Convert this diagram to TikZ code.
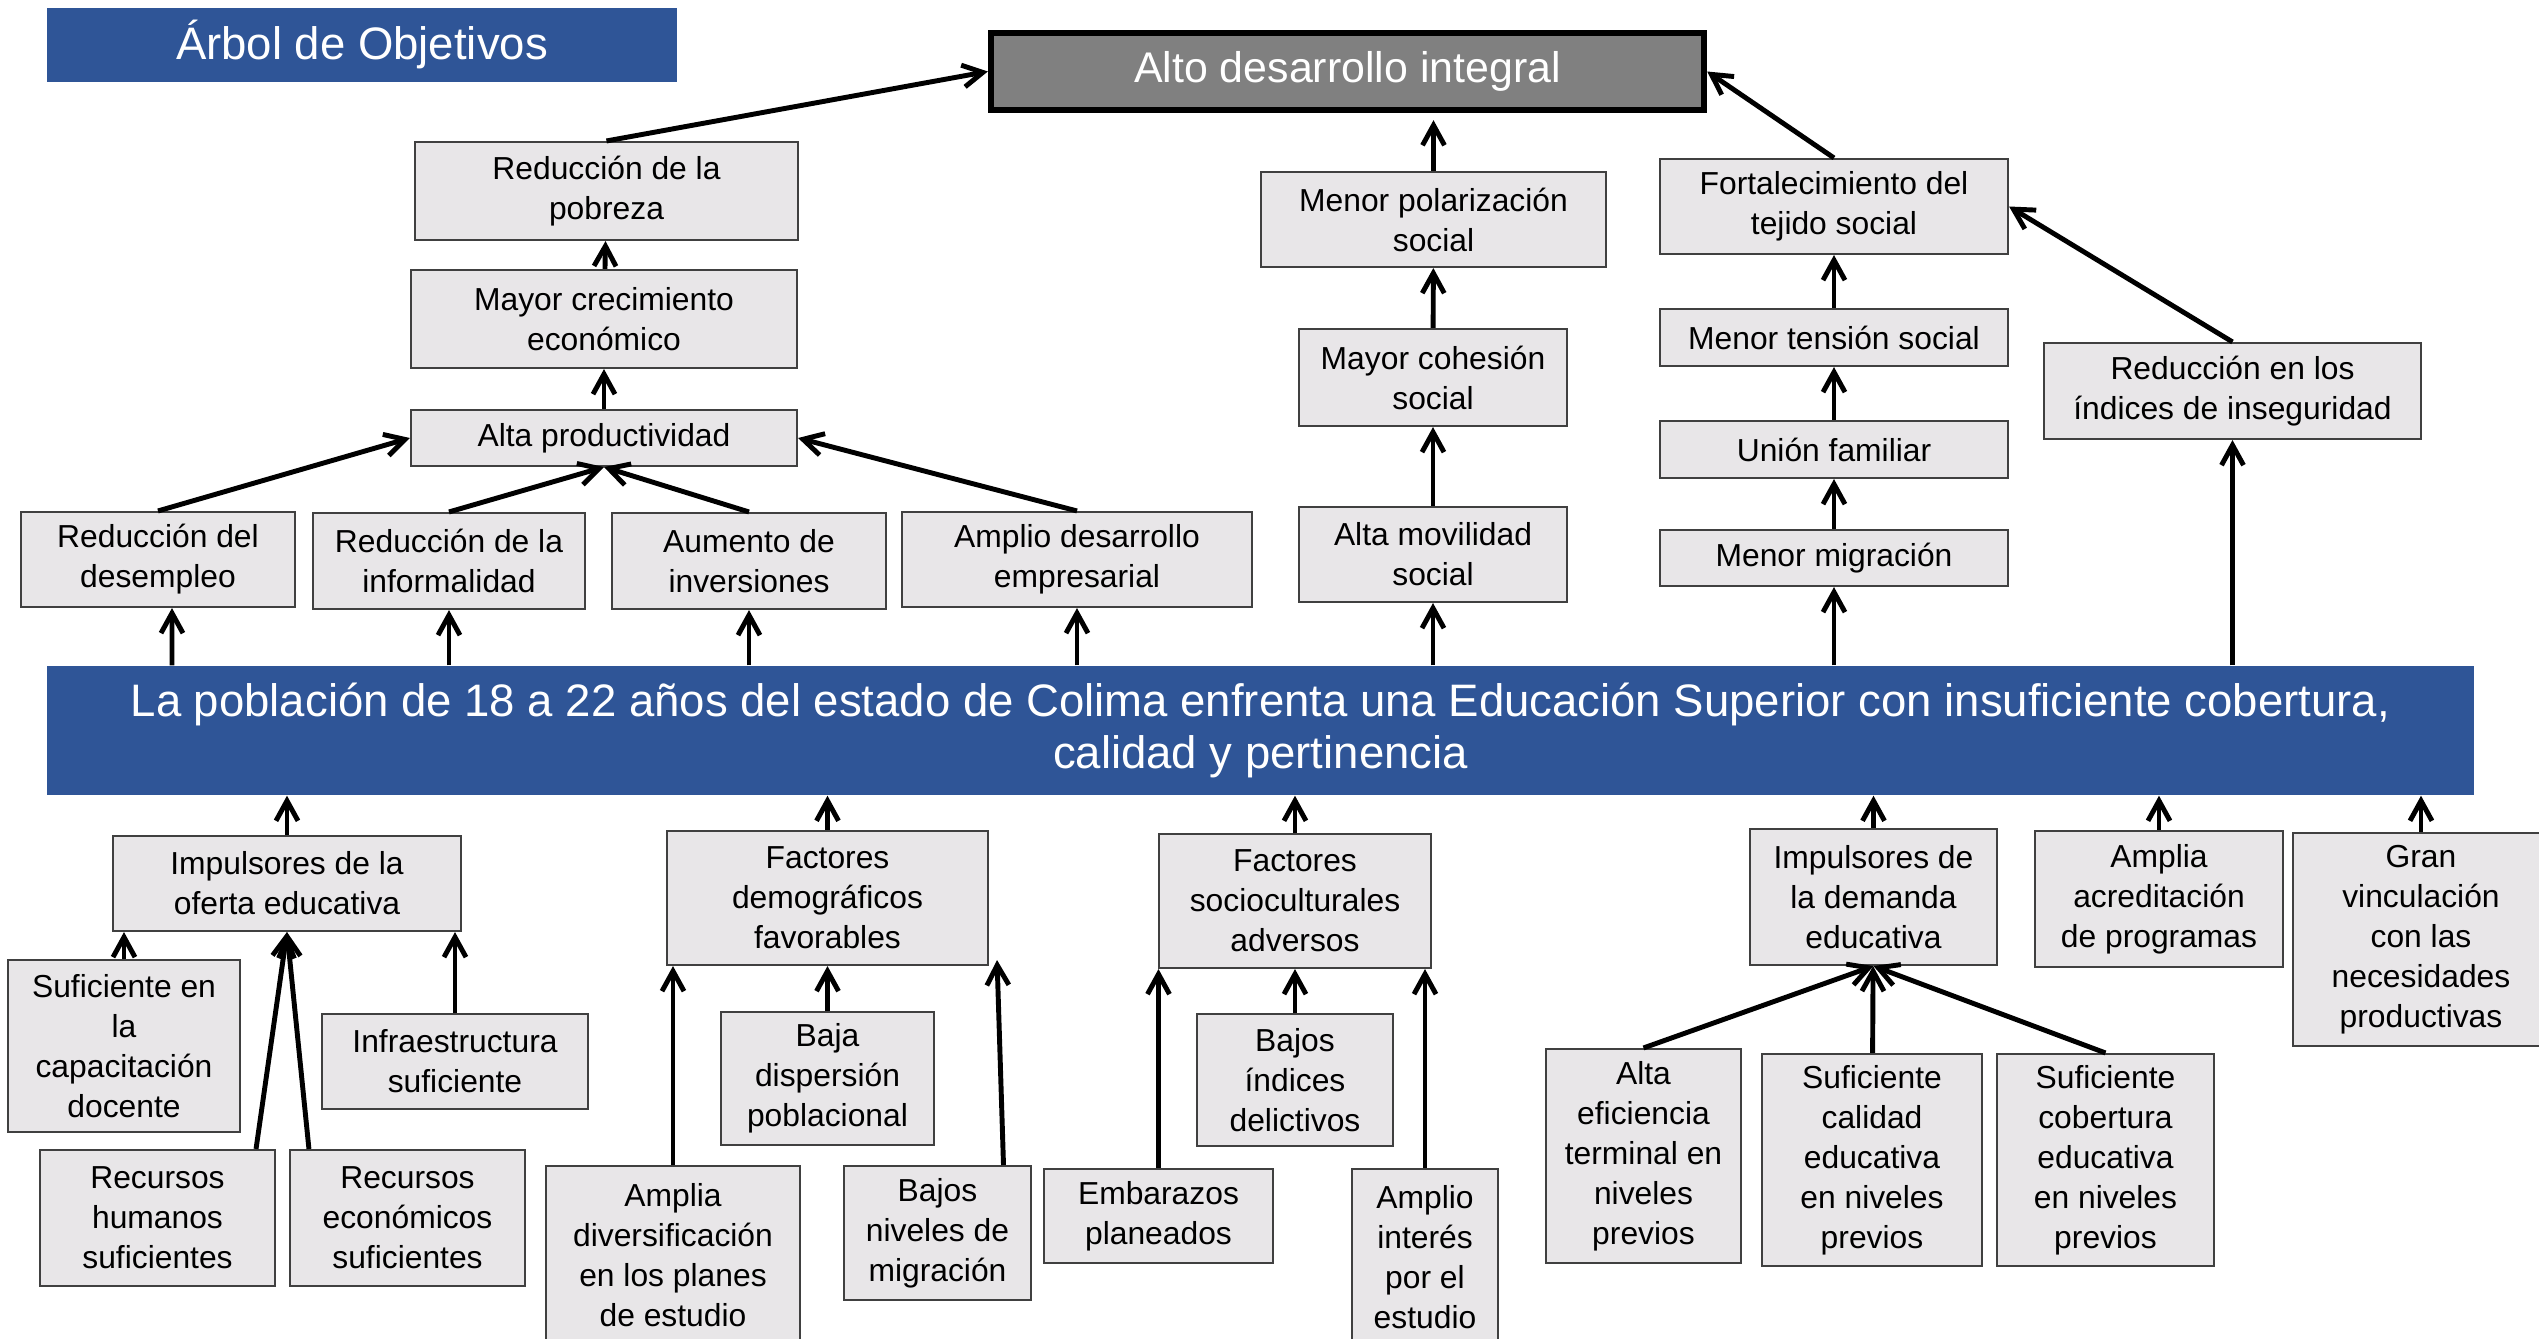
\documentclass[tikz,border=0pt]{standalone}
\usepackage{fontspec}
\setmainfont{Liberation Sans}
\usetikzlibrary{arrows.meta}

\definecolor{azul}{RGB}{47,85,151}
\definecolor{grisclaro}{RGB}{232,230,232}
\definecolor{grisborde}{RGB}{64,64,64}
\definecolor{grismedio}{RGB}{128,128,128}

\begin{document}
\begin{tikzpicture}[
    caja/.style={draw=grisborde, line width=0.6pt, fill=grisclaro, align=center, inner sep=0pt,
        font=\fontsize{9.05}{11.4}\selectfont},
    flecha/.style={-{Straight Barb[length=2mm,width=2.2mm]}, line width=1.4pt},
]
        \useasboundingbox (0,0) rectangle (25.39,-13.39);

        % Title and final goal
        \node[fill=azul, text=white, minimum width=6.30cm, minimum height=0.74cm, inner sep=0pt,
            font=\fontsize{12.95}{15}\selectfont] (titulo) at (3.62,-0.445) {Árbol de Objetivos};
        \node[draw=black, line width=1.8pt, fill=grismedio, text=white, minimum width=7.13cm,
            minimum height=0.77cm, inner sep=0pt, font=\fontsize{12.2}{15}\selectfont]
            (alto) at (13.475,-0.715) {Alto desarrollo integral};

        % Economic branch
        \node[caja, minimum width=3.83cm, minimum height=0.98cm] (pobreza) at (6.065,-1.91) {Reducción de la\\pobreza};
        \node[caja, minimum width=3.86cm, minimum height=0.98cm] (crecimiento) at (6.04,-3.19) {Mayor crecimiento\\económico};
        \node[caja, minimum width=3.86cm, minimum height=0.56cm] (productividad) at (6.04,-4.38) {Alta productividad};
        \node[caja, minimum width=2.74cm, minimum height=0.95cm] (desempleo) at (1.58,-5.595) {Reducción del\\desempleo};
        \node[caja, minimum width=2.72cm, minimum height=0.96cm] (informalidad) at (4.49,-5.61) {Reducción de la\\informalidad};
        \node[caja, minimum width=2.74cm, minimum height=0.96cm] (inversiones) at (7.49,-5.61) {Aumento de\\inversiones};
        \node[caja, minimum width=3.50cm, minimum height=0.95cm] (empresarial) at (10.77,-5.595) {Amplio desarrollo\\empresarial};

        % Social branch
        \node[caja, minimum width=3.45cm, minimum height=0.95cm] (polarizacion) at (14.335,-2.195) {Menor polarización\\social};
        \node[caja, minimum width=2.68cm, minimum height=0.97cm] (cohesion) at (14.33,-3.775) {Mayor cohesión\\social};
        \node[caja, minimum width=2.68cm, minimum height=0.95cm] (movilidad) at (14.33,-5.545) {Alta movilidad\\social};
        \node[caja, minimum width=3.48cm, minimum height=0.95cm] (fortalecimiento) at (18.34,-2.065) {Fortalecimiento del\\tejido social};
        \node[caja, minimum width=3.48cm, minimum height=0.57cm] (tension) at (18.34,-3.375) {Menor tensión social};
        \node[caja, minimum width=3.48cm, minimum height=0.57cm] (union) at (18.34,-4.495) {Unión familiar};
        \node[caja, minimum width=3.48cm, minimum height=0.56cm] (menormig) at (18.34,-5.58) {Menor migración};
        \node[caja, minimum width=3.77cm, minimum height=0.96cm] (inseguridad) at (22.325,-3.91) {Reducción en los\\índices de inseguridad};

        % Central problem
        \node[fill=azul, text=white, minimum width=24.27cm, minimum height=1.29cm, inner sep=0pt, align=center,
            font=\fontsize{12.95}{14.8}\selectfont] (problema) at (12.605,-7.305)
            {La población de 18 a 22 años del estado de Colima enfrenta una Educación Superior con insuficiente cobertura,\\calidad y pertinencia};

        % Supply side
        \node[caja, minimum width=3.48cm, minimum height=0.95cm] (oferta) at (2.87,-8.835) {Impulsores de la\\oferta educativa};
        \node[caja, minimum width=2.32cm, minimum height=1.72cm] (capacitacion) at (1.24,-10.46) {Suficiente en\\la\\capacitación\\docente};
        \node[caja, minimum width=2.66cm, minimum height=0.95cm] (infraestructura) at (4.55,-10.615) {Infraestructura\\suficiente};
        \node[caja, minimum width=2.35cm, minimum height=1.36cm] (humanos) at (1.575,-12.18) {Recursos\\humanos\\suficientes};
        \node[caja, minimum width=2.35cm, minimum height=1.36cm] (economicos) at (4.075,-12.18) {Recursos\\económicos\\suficientes};

        % Demographic factors
        \node[caja, minimum width=3.21cm, minimum height=1.34cm] (demograficos) at (8.275,-8.98) {Factores\\demográficos\\favorables};
        \node[caja, minimum width=2.13cm, minimum height=1.33cm] (dispersion) at (8.275,-10.785) {Baja\\dispersión\\poblacional};
        \node[caja, minimum width=2.54cm, minimum height=1.79cm] (diversificacion) at (6.73,-12.555) {Amplia\\diversificación\\en los planes\\de estudio};
        \node[caja, minimum width=1.87cm, minimum height=1.34cm] (bajosmig) at (9.375,-12.33) {Bajos\\niveles de\\migración};

        % Sociocultural factors
        \node[caja, minimum width=2.72cm, minimum height=1.34cm] (socioculturales) at (12.95,-9.01) {Factores\\socioculturales\\adversos};
        \node[caja, minimum width=1.96cm, minimum height=1.32cm] (delictivos) at (12.95,-10.80) {Bajos\\índices\\delictivos};
        \node[caja, minimum width=2.29cm, minimum height=0.94cm] (embarazos) at (11.585,-12.16) {Embarazos\\planeados};
        \node[caja, minimum width=1.46cm, minimum height=1.76cm] (interes) at (14.25,-12.57) {Amplio\\interés\\por el\\estudio};

        % Demand side
        \node[caja, minimum width=2.47cm, minimum height=1.36cm] (demanda) at (18.735,-8.97) {Impulsores de\\la demanda\\educativa};
        \node[caja, minimum width=2.48cm, minimum height=1.36cm] (acreditacion) at (21.59,-8.99) {Amplia\\acreditación\\de programas};
        \node[caja, minimum width=2.56cm, minimum height=2.13cm] (vinculacion) at (24.21,-9.395) {Gran\\vinculación\\con las\\necesidades\\productivas};
        \node[caja, minimum width=1.95cm, minimum height=2.14cm] (eficiencia) at (16.435,-11.56) {Alta\\eficiencia\\terminal en\\niveles\\previos};
        \node[caja, minimum width=2.20cm, minimum height=2.12cm] (calidad) at (18.72,-11.60) {Suficiente\\calidad\\educativa\\en niveles\\previos};
        \node[caja, minimum width=2.17cm, minimum height=2.12cm] (cobertura) at (21.055,-11.60) {Suficiente\\cobertura\\educativa\\en niveles\\previos};

        % Arrows above the problem
        \draw[flecha] (pobreza.north) -- (alto.west);
        \draw[flecha] (crecimiento) -- (pobreza);
        \draw[flecha] (productividad) -- (crecimiento);
        \draw[flecha] (desempleo.north) -- (productividad.west);
        \draw[flecha] (informalidad.north) -- (productividad.south);
        \draw[flecha] (inversiones.north) -- (productividad.south);
        \draw[flecha] (empresarial.north) -- (productividad.east);
        \draw[flecha] (problema.north -| desempleo.south) ++(0.14,0) -- ([xshift=0.14cm]desempleo.south);
        \draw[flecha] (problema.north -| informalidad) -- (informalidad);
        \draw[flecha] (problema.north -| inversiones) -- (inversiones);
        \draw[flecha] (problema.north -| empresarial) -- (empresarial);
        \draw[flecha] (problema.north -| movilidad) -- (movilidad);
        \draw[flecha] (movilidad) -- (cohesion);
        \draw[flecha] (cohesion) -- (polarizacion);
        \draw[flecha] (polarizacion.north) -- ([yshift=-0.07cm]alto.south -| polarizacion.north);
        \draw[flecha] (problema.north -| menormig) -- (menormig);
        \draw[flecha] (menormig) -- (union);
        \draw[flecha] (union) -- (tension);
        \draw[flecha] (tension) -- (fortalecimiento);
        \draw[flecha] (fortalecimiento.north) -- (alto.east);
        \draw[flecha] (problema.north -| inseguridad) -- (inseguridad);
        \draw[flecha] (inseguridad.north) -- (fortalecimiento.east);

        % Arrows below the problem
        \draw[flecha] (oferta) -- (oferta |- problema.south);
        \draw[flecha] (demograficos) -- (demograficos |- problema.south);
        \draw[flecha] (socioculturales) -- (socioculturales |- problema.south);
        \draw[flecha] (demanda) -- (demanda |- problema.south);
        \draw[flecha] (acreditacion) -- (acreditacion |- problema.south);
        \draw[flecha] (vinculacion) -- (vinculacion |- problema.south);
        \draw[flecha] (capacitacion) -- (capacitacion |- oferta.south);
        \draw[flecha] ([xshift=-0.2cm]humanos.north east) -- (oferta.south);
        \draw[flecha] ([xshift=0.2cm]economicos.north west) -- (oferta.south);
        \draw[flecha] (infraestructura) -- (infraestructura |- oferta.south);
        \draw[flecha] (diversificacion) -- (diversificacion |- demograficos.south);
        \draw[flecha] (dispersion) -- (demograficos);
        \draw[flecha] ([xshift=0.66cm]bajosmig.north) -- ([xshift=0.08cm,yshift=0.06cm]demograficos.south east);
        \draw[flecha] (embarazos) -- (embarazos |- socioculturales.south);
        \draw[flecha] (delictivos) -- (socioculturales);
        \draw[flecha] (interes) -- (interes |- socioculturales.south);
        \draw[flecha] (eficiencia.north) -- (demanda.south);
        \draw[flecha] (calidad) -- (demanda);
        \draw[flecha] (cobertura.north) -- (demanda.south);
    \end{tikzpicture}
\end{document}
